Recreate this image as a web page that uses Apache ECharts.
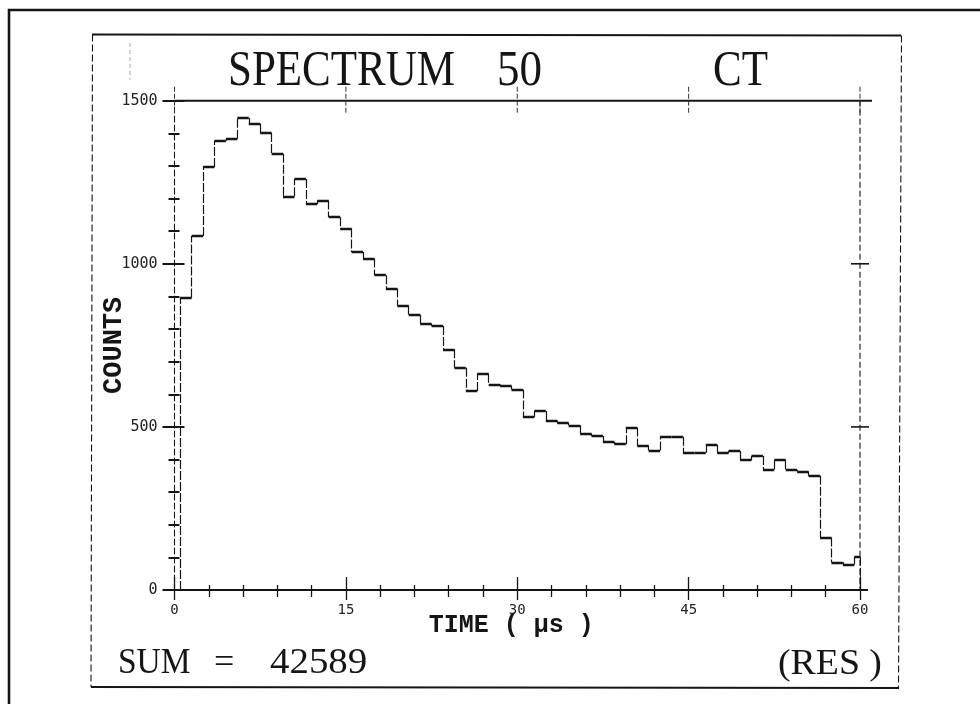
<!DOCTYPE html>
<html>
<head>
<meta charset="utf-8">
<script src="https://cdn.jsdelivr.net/npm/echarts@6/dist/echarts.min.js"></script>
<style>
  html, body { margin: 0; padding: 0; background: #ffffff; }
  #chart { width: 980px; height: 704px; }
</style>
</head>
<body>
<div id="chart"></div>
<script>
// Counts per 1 µs time channel (channel k covers k+0.5 .. k+1.5 µs)
const counts = [
  897, 1085, 1297, 1377, 1383, 1447, 1429, 1401, 1337, 1207,
  1260, 1183, 1194, 1143, 1108, 1036, 1016, 965, 924, 872,
  844, 816, 809, 738, 681, 610, 663, 630, 626, 615,
  530, 549, 520, 513, 505, 480, 472, 454, 447, 498,
  442, 428, 470, 470, 421, 421, 445, 421, 426, 398,
  411, 370, 398, 368, 363, 350, 161, 85, 78, 102
];
const channelStart = 0.5;   // µs, left edge of the first channel
const channelWidth = 1;     // µs
const timeMin = 0, timeMax = 60, timeStep = 15;
const countMin = 0, countMax = 1500, countStep = 500;
const topTicks = [0, 15, 30, 45, 60];     // µs, marks on the upper frame
const rightTicks = [500, 1000];           // counts, marks on the right frame

const spectrumTitle = ['SPECTRUM', '50', 'CT'];
const modeTag = '(RES )';

const INK = '#151515';
const total = counts.reduce((a, b) => a + b, 0);

// Histogram outline: flat channel tops and the edges joining them
const tops = [], edges = [];
counts.forEach((c, k) => {
  const x0 = channelStart + k * channelWidth;
  const x1 = Math.min(x0 + channelWidth, timeMax);
  const prev = k === 0 ? 0 : counts[k - 1];
  tops.push({ coords: [[x0, c], [x1, c]] });
  edges.push({ coords: [[x0, prev], [x0, c]] });
});
edges.push({ coords: [[timeMax, counts[counts.length - 1]], [timeMax, 0]] });

const dashed = [6, 3];

function xAxisDef(pos, opts) {
  return Object.assign({
    type: 'value', position: pos, min: timeMin, max: timeMax, interval: timeStep,
    splitLine: { show: false },
    axisLine: { show: false },
    axisLabel: { show: false },
    axisTick: { show: false },
    minorTick: { show: false }
  }, opts);
}
function yAxisDef(pos, opts) {
  return Object.assign({
    type: 'value', position: pos, min: countMin, max: countMax, interval: countStep,
    splitLine: { show: false },
    axisLine: { show: false },
    axisLabel: { show: false },
    axisTick: { show: false },
    minorTick: { show: false }
  }, opts);
}

function outline(data, lineStyle) {
  return {
    type: 'lines', coordinateSystem: 'cartesian2d',
    xAxisIndex: 0, yAxisIndex: 0,
    silent: true, polyline: false,
    lineStyle: Object.assign({ color: INK, opacity: 1, curveness: 0 }, lineStyle),
    data: data
  };
}

// Frame, heading and footer
function decorations() {
  return [
    // outer border
    { type: 'polyline', silent: true, shape: { points: [[9, 704], [9, 10], [980, 10]] },
      style: { stroke: INK, lineWidth: 2.6, fill: null } },
    // inner frame
    { type: 'line', silent: true, shape: { x1: 92, y1: 34.5, x2: 901, y2: 35.5 },
      style: { stroke: INK, lineWidth: 2.2 } },
    { type: 'line', silent: true, shape: { x1: 91, y1: 687, x2: 899, y2: 688 },
      style: { stroke: INK, lineWidth: 2.2 } },
    { type: 'line', silent: true, shape: { x1: 92.5, y1: 34.5, x2: 91, y2: 687 },
      style: { stroke: INK, lineWidth: 1.1, lineDash: [7, 3] } },
    { type: 'line', silent: true, shape: { x1: 901.5, y1: 35.5, x2: 898.5, y2: 688 },
      style: { stroke: INK, lineWidth: 1.1, lineDash: [7, 3] } },
    { type: 'line', silent: true, shape: { x1: 130, y1: 43, x2: 130, y2: 80 },
      style: { stroke: '#999', lineWidth: 0.8, lineDash: [4, 3] } },
    // heading
    { type: 'text', silent: true, x: 228, y: 72, scaleX: 0.86,
      style: { text: spectrumTitle[0], fill: INK, fontSize: 50, fontFamily: 'Liberation Serif', align: 'left', verticalAlign: 'middle' } },
    { type: 'text', silent: true, x: 497, y: 72, scaleX: 0.9,
      style: { text: spectrumTitle[1], fill: INK, fontSize: 50, fontFamily: 'Liberation Serif', align: 'left', verticalAlign: 'middle' } },
    { type: 'text', silent: true, x: 713, y: 72, scaleX: 0.86,
      style: { text: spectrumTitle[2], fill: INK, fontSize: 50, fontFamily: 'Liberation Serif', align: 'left', verticalAlign: 'middle' } },
    // footer
    { type: 'text', silent: true, x: 118, y: 664, scaleX: 0.93,
      style: { text: 'SUM', fill: INK, fontSize: 36, fontFamily: 'Liberation Serif', align: 'left', verticalAlign: 'middle' } },
    { type: 'text', silent: true, x: 214, y: 664,
      style: { text: '=', fill: INK, fontSize: 36, fontFamily: 'Liberation Serif', align: 'left', verticalAlign: 'middle' } },
    { type: 'text', silent: true, x: 270, y: 664, scaleX: 1.08,
      style: { text: String(total), fill: INK, fontSize: 36, fontFamily: 'Liberation Serif', align: 'left', verticalAlign: 'middle' } },
    { type: 'text', silent: true, x: 778, y: 665, scaleX: 1.05,
      style: { text: modeTag, fill: INK, fontSize: 36, fontFamily: 'Liberation Serif', align: 'left', verticalAlign: 'middle' } }
  ];
}

const chart = echarts.init(document.getElementById('chart'), null, { renderer: 'canvas' });

const option = {
  backgroundColor: '#ffffff',
  animation: false,
  grid: { left: 174.5, right: 120, top: 100.7, bottom: 114, containLabel: false },
  xAxis: [
    xAxisDef('bottom', {
      axisLine: { show: true, lineStyle: { color: INK, width: 2 } },
      axisTick: { show: true, length: 10, lineStyle: { color: INK, width: 1.3 } },
      minorTick: { show: true, splitNumber: 5, length: 7, lineStyle: { color: INK, width: 1.3 } },
      axisLabel: { show: true, margin: 13, color: '#222', fontSize: 14, fontFamily: 'DejaVu Sans Mono' },
      name: 'TIME ( µs )', nameLocation: 'middle', nameGap: 23, nameMoveOverlap: false,
      nameTextStyle: { color: INK, fontSize: 25, fontWeight: 'bold', fontFamily: 'Liberation Mono',
                       verticalAlign: 'top', padding: [0, 12, 0, 0] }
    }),
    xAxisDef('bottom', {
      axisTick: { show: true, inside: true, length: 13, lineStyle: { color: INK, width: 1.3 } },
      minorTick: { show: true, splitNumber: 5, length: 5, lineStyle: { color: INK, width: 1.3 } }
    })
  ],
  yAxis: [
    yAxisDef('left', {
      axisLine: { show: true, lineStyle: { color: INK, width: 1.1, type: dashed } },
      axisTick: { show: true, length: 12, lineStyle: { color: INK, width: 2 } },
      minorTick: { show: true, splitNumber: 5, length: 6, lineStyle: { color: INK, width: 2 } },
      axisLabel: { show: true, margin: 17, color: '#222', fontSize: 15, fontFamily: 'DejaVu Sans Mono',
                   formatter: v => String(v) },
      name: 'COUNTS', nameLocation: 'middle', nameRotate: 90, nameGap: 47, nameMoveOverlap: false,
      nameTextStyle: { color: INK, fontSize: 27, fontWeight: 'bold', fontFamily: 'Liberation Mono' }
    }),
    yAxisDef('left', {
      axisTick: { show: true, inside: true, length: 10, lineStyle: { color: INK, width: 2 } },
      minorTick: { show: true, splitNumber: 5, length: 5, lineStyle: { color: INK, width: 2 } }
    })
  ],
  series: [
    outline(tops, { width: 2.4 }),
    outline(edges, { width: 1.2, type: [9, 2] })
  ],
  graphic: decorations()
};

chart.setOption(option);

// Upper and right frame lines with their cross marks, placed through the axis scales
const toX = v => chart.convertToPixel({ xAxisIndex: 0 }, v);
const toY = v => chart.convertToPixel({ yAxisIndex: 0 }, v);
const frameLeft = toX(timeMin), frameRight = toX(timeMax);
const frameTop = toY(countMax), frameBottom = toY(countMin);
const frameMarks = [
  { type: 'line', silent: true, z: 5,
    shape: { x1: frameLeft, y1: frameTop, x2: frameRight + 12, y2: frameTop },
    style: { stroke: INK, lineWidth: 2 } },
  { type: 'line', silent: true, z: 5,
    shape: { x1: frameRight, y1: frameTop, x2: frameRight, y2: frameBottom },
    style: { stroke: INK, lineWidth: 1.1, lineDash: dashed } },
  { type: 'line', silent: true, z: 5,
    shape: { x1: frameRight, y1: frameBottom, x2: frameRight + 8, y2: frameBottom },
    style: { stroke: INK, lineWidth: 2 } }
];
topTicks.forEach(t => {
  const px = toX(t);
  frameMarks.push({ type: 'line', silent: true, z: 5,
    shape: { x1: px, y1: frameTop - 14, x2: px, y2: frameTop + 12 },
    style: { stroke: '#333', lineWidth: 1, lineDash: [5, 2] } });
});
rightTicks.forEach(v => {
  const py = toY(v);
  frameMarks.push({ type: 'line', silent: true, z: 5,
    shape: { x1: frameRight - 9, y1: py, x2: frameRight + 9, y2: py },
    style: { stroke: INK, lineWidth: 1.6 } });
});
chart.setOption({ graphic: decorations().concat(frameMarks) });
</script>
</body>
</html>
